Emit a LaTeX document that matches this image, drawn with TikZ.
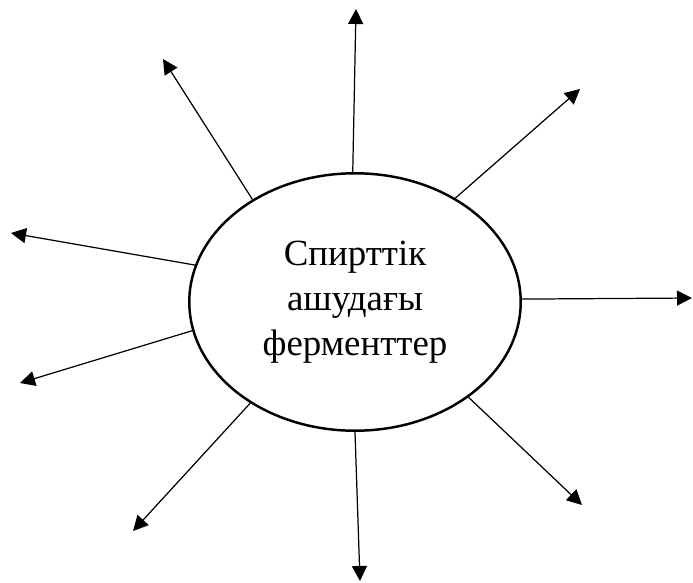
\documentclass[tikz,border=0pt]{standalone}
\usepackage{fontspec}
\setmainfont{Liberation Serif}
\usetikzlibrary{arrows.meta,shapes.geometric}

\begin{document}
\begin{tikzpicture}[
  x=0.02cm, y=-0.02cm,
  >={Triangle[length=3mm,width=3mm]},
  hub/.style={ellipse,draw,line width=1.4pt,minimum width=6.63cm,minimum height=5.15cm,
    inner sep=0pt,align=center,font=\fontsize{21}{25.6}\selectfont},
  ray/.style={->,line width=0.7pt}
]
  \useasboundingbox (0,0) rectangle (693,582);

  \node[hub] (fer) at (355,302) {Спирттік\\ашудағы\\ферменттер};

  % free ends of the rays
  \coordinate (n)  at (356,9);
  \coordinate (nw) at (163,59);
  \coordinate (ne) at (580,89);
  \coordinate (wu) at (11,233);
  \coordinate (e)  at (692,298);
  \coordinate (wd) at (20,383);
  \coordinate (sw) at (133,531);
  \coordinate (s)  at (360,581);
  \coordinate (se) at (582,505);

  \draw[ray] (fer.91)    -- (n);
  \draw[ray] (fer.135.5) -- (nw);
  \draw[ray] (fer.46)    -- (ne);
  \draw[ray] (fer.167.5) -- (wu);
  \draw[ray] (fer.1.4)   -- (e);
  \draw[ray] (fer.190.4) -- (wd);
  \draw[ray] (fer.224.2) -- (sw);
  \draw[ray] (fer.270.4) -- (s);
  \draw[ray] (fer.320.9) -- (se);
\end{tikzpicture}
\end{document}
